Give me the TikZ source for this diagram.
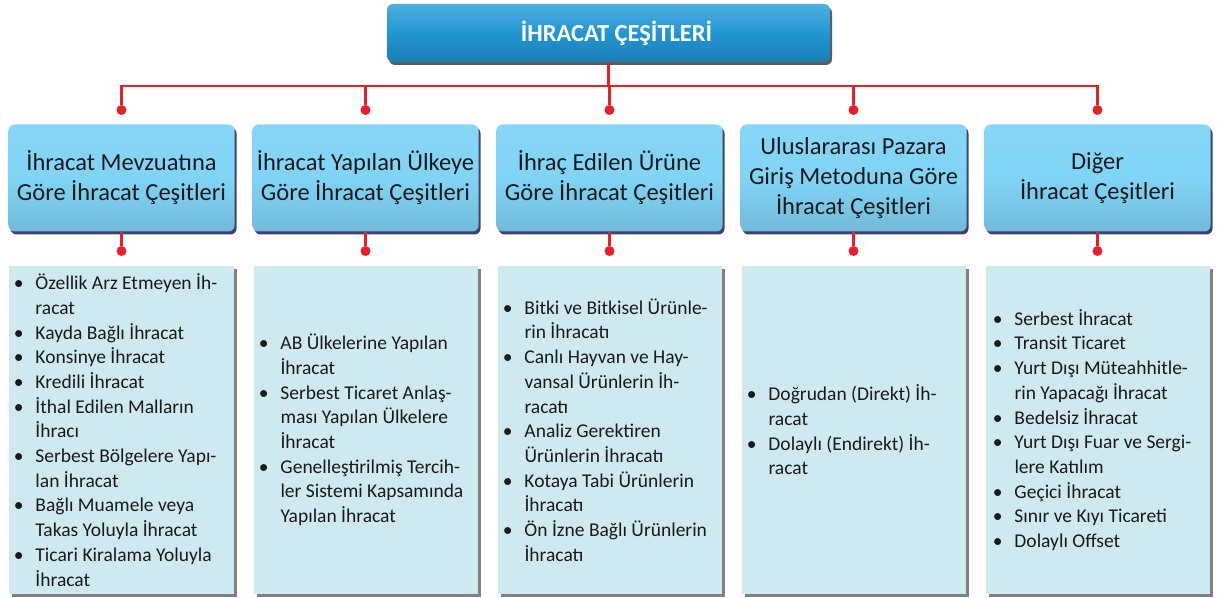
\documentclass[tikz,border=0pt]{standalone}
\usepackage{fontspec}
\setmainfont{Carlito}
\usetikzlibrary{shadows}
\definecolor{titleblue}{RGB}{32,150,211}
\definecolor{titletop}{RGB}{80,175,225}
\definecolor{catblue}{RGB}{128,212,246}
\definecolor{listblue}{RGB}{206,234,240}
\definecolor{linered}{RGB}{232,30,40}
\definecolor{inkgray}{RGB}{25,25,25}
\newcommand{\itm}{\makebox[0pt][r]{\textbullet\hspace{12bp}}}

\begin{document}
\begin{tikzpicture}[x=1bp, y=-1bp,
    titlebox/.style={rounded corners=6bp, top color=titletop, bottom color=titleblue!85!black,
        middle color=titleblue, minimum width=443bp, minimum height=58bp,
        text=white, font=\fontsize{24.5bp}{28bp}\selectfont\bfseries,
        drop shadow={shadow xshift=2bp, shadow yshift=-3bp, fill=black!80, opacity=.8}},
    catbox/.style={rounded corners=6bp, top color=catblue!95!white, bottom color=catblue!88!black,
        middle color=catblue, minimum width=226bp, minimum height=107bp,
        align=center, text=inkgray, font=\fontsize{24.5bp}{30bp}\selectfont,
        drop shadow={shadow xshift=2bp, shadow yshift=-3bp, fill=black!75!blue, opacity=.75}},
    listbox/.style={fill=listblue, minimum width=224bp, minimum height=328bp,
        drop shadow={shadow xshift=3bp, shadow yshift=-3bp, fill=black!55, opacity=.9}},
    listtext/.style={anchor=west, align=left, inner sep=0pt, text=inkgray,
        font=\fontsize{19.5bp}{24.7bp}\selectfont},
    dot/.style={circle, fill=linered, inner sep=0pt, minimum size=10bp},
    redline/.style={draw=linered, line width=2.4bp}]

    % Frame of the page
    \useasboundingbox (0,0) rectangle (1221,598);

    % Main title
    \node[titlebox] (top) at (608.5,33) {\hspace*{16bp}İHRACAT ÇEŞİTLERİ};

    % Category boxes
    \node[catbox] (c1) at (121.5,178) {İhracat Mevzuatına\\Göre İhracat Çeşitleri};
    \node[catbox] (c2) at (365.5,178) {İhracat Yapılan Ülkeye\\Göre İhracat Çeşitleri};
    \node[catbox] (c3) at (609.5,178) {İhraç Edilen Ürüne\\Göre İhracat Çeşitleri};
    \node[catbox] (c4) at (853.5,178) {Uluslararası Pazara\\Giriş Metoduna Göre\\İhracat Çeşitleri};
    \node[catbox] (c5) at (1097.5,178) {Diğer\\İhracat Çeşitleri};

    % List boxes
    \foreach \i in {1,...,5}
        \node[listbox] (b\i) at (c\i |- 0,430) {};

    % List texts
    \node[listtext] (t1) at ([xshift=26bp]b1.west) {\itm Özellik Arz Etmeyen İh-\\racat\\
        \itm Kayda Bağlı İhracat\\\itm Konsinye İhracat\\\itm Kredili İhracat\\
        \itm İthal Edilen Malların\\İhracı\\\itm Serbest Bölgelere Yapı-\\lan İhracat\\
        \itm Bağlı Muamele veya\\Takas Yoluyla İhracat\\\itm Ticari Kiralama Yoluyla\\İhracat};
    \node[listtext] (t2) at ([xshift=27bp]b2.west) {\itm AB Ülkelerine Yapılan\\İhracat\\
        \itm Serbest Ticaret Anlaş-\\ması Yapılan Ülkelere\\İhracat\\
        \itm Genelleştirilmiş Tercih-\\ler Sistemi Kapsamında\\Yapılan İhracat};
    \node[listtext] (t3) at ([xshift=27bp]b3.west) {\itm Bitki ve Bitkisel Ürünle-\\rin İhracatı\\
        \itm Canlı Hayvan ve Hay-\\vansal Ürünlerin İh-\\racatı\\
        \itm Analiz Gerektiren\\Ürünlerin İhracatı\\\itm Kotaya Tabi Ürünlerin\\İhracatı\\
        \itm Ön İzne Bağlı Ürünlerin\\İhracatı};
    \node[listtext] (t4) at ([xshift=27bp]b4.west) {\itm Doğrudan (Direkt) İh-\\racat\\
        \itm Dolaylı (Endirekt) İh-\\racat};
    \node[listtext] (t5) at ([xshift=29bp]b5.west) {\itm Serbest İhracat\\\itm Transit Ticaret\\
        \itm Yurt Dışı Müteahhitle-\\rin Yapacağı İhracat\\\itm Bedelsiz İhracat\\
        \itm Yurt Dışı Fuar ve Sergi-\\lere Katılım\\\itm Geçici İhracat\\
        \itm Sınır ve Kıyı Ticareti\\\itm Dolaylı Offset};

    % Red connectors
    \coordinate (hub) at ([yshift=-24bp]top.south);
    \draw[redline] (top.south) -- (hub);
    \foreach \i in {1,...,5} {
        \node[dot] (d\i) at (c\i |- 0,110) {};
        \node[dot] (e\i) at (c\i |- 0,251) {};
        \draw[redline] (hub) -| (d\i);
        \draw[redline] (c\i.south) -- (e\i);
    }

\end{tikzpicture}
\end{document}
